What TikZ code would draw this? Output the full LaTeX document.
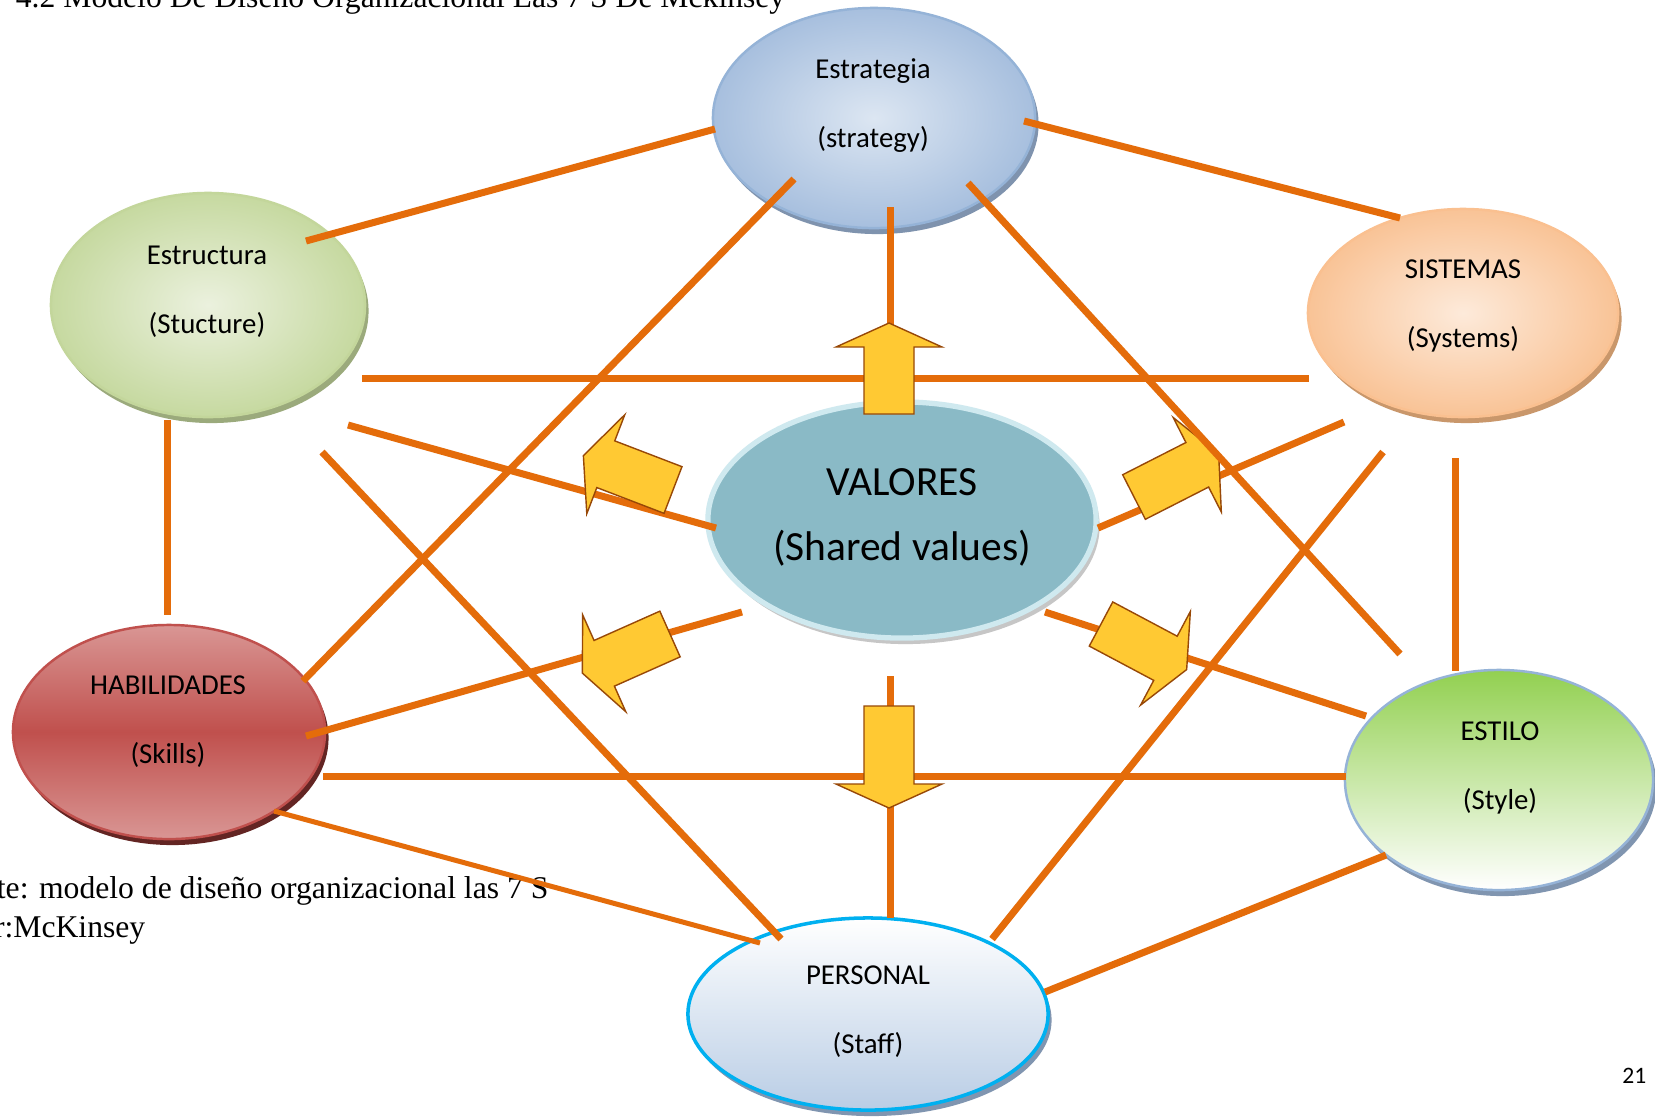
\documentclass[tikz,border=0pt]{standalone}
\usepackage{fontspec}
\setmainfont{Carlito}
\newfontfamily\timesfont{Liberation Serif}
\usetikzlibrary{calc,shadows,shapes.geometric}

\definecolor{naranja}{HTML}{E46C0A}
\definecolor{amarillo}{HTML}{FFC933}
\definecolor{marron}{HTML}{984807}
\definecolor{estratA}{HTML}{DCE6F2}
\definecolor{estratB}{HTML}{A7BFDE}
\definecolor{estratC}{HTML}{95B3D7}
\definecolor{estratD}{HTML}{7F93AE}
\definecolor{estrucA}{HTML}{EBF1DE}
\definecolor{estrucB}{HTML}{C6D9A0}
\definecolor{estrucC}{HTML}{C3D69B}
\definecolor{estrucD}{HTML}{9BAA7C}
\definecolor{sistA}{HTML}{FDEADA}
\definecolor{sistB}{HTML}{F9C396}
\definecolor{sistC}{HTML}{FAC090}
\definecolor{sistD}{HTML}{C9976B}
\definecolor{habA}{HTML}{D99694}
\definecolor{habB}{HTML}{C0504D}
\definecolor{habD}{HTML}{632523}
\definecolor{estiloA}{HTML}{92D050}
\definecolor{estiloC}{HTML}{95B3D7}
\definecolor{persA}{HTML}{B9CDE5}
\definecolor{persC}{HTML}{00B0F0}
\definecolor{grisD}{HTML}{8095B0}
\definecolor{valA}{HTML}{8ABAC6}
\definecolor{valC}{HTML}{CFE9EF}

\tikzset{
  elipse/.style={shape=ellipse, inner sep=0pt, line width=0.7pt},
  sombra/.style={drop shadow={shadow xshift=0.035cm, shadow yshift=-0.06cm, fill=#1, opacity=1}},
  texto/.style={align=center, font=\fontsize{8.2}{19.6}\selectfont},
  pie/.style={inner sep=0pt, font=\timesfont\fontsize{9}{11}\selectfont},
  enlace/.style={draw=naranja, line width=0.07cm},
  flecha/.style={fill=amarillo, draw=marron, line width=0.4pt, line join=miter}
}

\begin{document}
\begin{tikzpicture}[x=0.01cm, y=-0.01cm]
        \useasboundingbox (0,0) rectangle (1655,1117);
        \clip (0,0) rectangle (1655,1117);
        \fill[white] (0,0) rectangle (1655,1117);

        \node[pie, anchor=base east] (titulo) at (786,7) {4.2 Modelo De Diseño Organizacional Las 7 S De Mckinsey};
        \node[pie, anchor=base east] (fuente) at (549,898) {te: modelo de diseño organizacional las 7 S};
        \node[pie, anchor=base east] (autor) at (146,937) {r:McKinsey};
        \node[inner sep=0pt, anchor=base east, font=\fontsize{6.7}{8}\selectfont] (pagina) at (1647,1083) {21};

        \node[elipse, minimum width=3.22cm, minimum height=2.20cm, inner color=estratA, outer color=estratB, draw=estratC, sombra=estratD] (estrategia) at (874,118) {};
        \node[elipse, minimum width=3.14cm, minimum height=2.24cm, inner color=estrucA, outer color=estrucB, draw=estrucC, sombra=estrucD] (estructura) at (208,305) {};
        \node[elipse, minimum width=3.10cm, minimum height=2.08cm, inner color=sistA, outer color=sistB, draw=sistC, sombra=sistD] (sistemas) at (1463,313) {};
        \node[elipse, minimum width=3.88cm, minimum height=2.36cm, fill=valA, draw=valC, line width=1.5pt, sombra=gray!45] (valores) at (902,520) {};
        \node[elipse, minimum width=3.12cm, minimum height=2.14cm, top color=habA, bottom color=habA, middle color=habB, draw=habB, sombra=habD] (habilidades) at (169,732) {};
        \node[elipse, minimum width=3.08cm, minimum height=2.20cm, top color=estiloA, bottom color=white, draw=estiloC, sombra=grisD] (estilo) at (1499,780) {};
        \node[elipse, minimum width=3.60cm, minimum height=1.92cm, top color=white, bottom color=persA, draw=persC, line width=1pt, sombra=grisD] (personal) at (868,1014) {};

        \node[texto] (t-estrategia) at (873,106) {Estrategia\\(strategy)};
        \node[texto] (t-estructura) at (207,292) {Estructura\\(Stucture)};
        \node[texto] (t-sistemas) at (1463,306) {SISTEMAS\\(Systems)};
        \node[texto, font=\fontsize{11.8}{18.5}\selectfont] (t-valores) at (902,517) {VALORES\\(Shared values)};
        \node[texto] (t-habilidades) at (168,722) {HABILIDADES\\(Skills)};
        \node[texto] (t-estilo) at (1500,768) {ESTILO\\(Style)};
        \node[texto] (t-personal) at (868,1012) {PERSONAL\\(Staff)};

        \path [enlace]($(estrategia)+(-159,11)$) edge ($(estructura)+(98,-64)$);
        \path [enlace]($(estrategia)+(150,3)$) edge ($(sistemas)+(-63,-95)$);
        \path [enlace]($(estrategia)+(16,89)$) edge ($(valores)+(-12,-110)$);
        \path [enlace]($(estructura)+(154,73)$) edge ($(sistemas)+(-154,65)$);
        \path [enlace]($(estructura)+(140,120)$) edge ($(valores)+(-186,8)$);
        \path [enlace]($(estructura)+(-41,115)$) edge ($(habilidades)+(-2,-117)$);
        \path [enlace]($(sistemas)+(-119,109)$) edge ($(valores)+(196,8)$);
        \path [enlace]($(sistemas)+(-8,145)$) edge ($(estilo)+(-44,-109)$);
        \path [enlace]($(valores)+(-160,92)$) edge ($(habilidades)+(137,4)$);
        \path [enlace]($(valores)+(143,92)$) edge ($(estilo)+(-133,-64)$);
        \path [enlace]($(habilidades)+(154,44)$) edge ($(estilo)+(-153,-4)$);
        \path [enlace]($(valores)+(-12,156)$) edge ($(personal)+(22,-96)$);
        \path [enlace, line width=0.05cm]($(habilidades)+(105,79)$) edge ($(personal)+(-108,-71)$);
        \path [enlace]($(personal)+(177,-22)$) edge ($(estilo)+(-113,75)$);

        % flechas amarillas: base, angulo, largo
        \foreach \ax/\ay/\ang/\lon in {889/414/90/67, 889/706/-90/78, 673/490/159/72, 670/634/204/72, 1134/497/27/71, 1101/624/-28/73}
          \draw[flecha, shift={(\ax,\ay)}, rotate=\ang] (0,-25) -- (\lon,-25) -- (\lon,-53) -- (\lon+24,0) -- (\lon,53) -- (\lon,25) -- (0,25) -- cycle;

        \path [enlace]($(estrategia)+(-80,61)$) edge ($(habilidades)+(134,-51)$);
        \path [enlace]($(estrategia)+(94,65)$) edge ($(estilo)+(-99,-126)$);
        \path [enlace]($(estructura)+(114,147)$) edge ($(personal)+(-87,-75)$);
        \path [enlace]($(sistemas)+(-80,139)$) edge ($(personal)+(124,-75)$);
    \end{tikzpicture}
\end{document}
